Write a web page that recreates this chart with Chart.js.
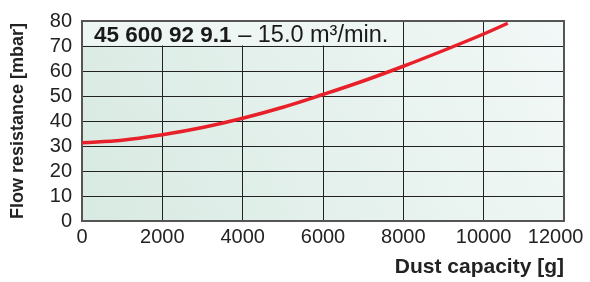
<!DOCTYPE html>
<html>
<head>
<meta charset="utf-8">
<script src="https://cdn.jsdelivr.net/npm/chart.js@4"></script>
<style>
  html, body { margin: 0; padding: 0; background: #fff; }
  #wrap { width: 590px; height: 282px; }
</style>
</head>
<body>
<div id="wrap"><canvas id="myChart" width="590" height="282"></canvas></div>
<script>
// values
const dustCapacity = [0, 1000, 2000, 3000, 4000, 5000, 6000, 7000, 8000, 9000, 10000, 10600];
const flowResistance = [31.3, 32.3, 34.5, 37.4, 41.1, 45.5, 50.6, 56.0, 61.9, 68.2, 74.8, 79.1];
const xTicks = [0, 2000, 4000, 6000, 8000, 10000, 12000];
const yTicks = [0, 10, 20, 30, 40, 50, 60, 70, 80];
const titleBold = '45 600 92 9.1';
const titleRest = ' \u2013 15.0 m\u00b3/min.';

const FONT = "'Liberation Sans', Arial, sans-serif";

// background gradient, title box and frame
const decor = {
  id: 'decor',
  beforeDraw(chart) {
    const { ctx, chartArea: a } = chart;
    const g = ctx.createLinearGradient(a.left, a.bottom, a.right, a.top);
    g.addColorStop(0, '#d8eae2');
    g.addColorStop(1, '#f2f8f7');
    ctx.save();
    ctx.fillStyle = g;
    ctx.fillRect(a.left, a.top, a.right - a.left, a.bottom - a.top);
    ctx.restore();
  },
  beforeDatasetsDraw(chart) {
    const { ctx, chartArea: a, scales } = chart;
    const x0 = scales.x.getPixelForValue(0);
    const x1 = scales.x.getPixelForValue(8000);
    const yTop = scales.y.getPixelForValue(80);
    const yBot = scales.y.getPixelForValue(70);
    ctx.save();
    ctx.fillStyle = '#eef6f4';
    ctx.fillRect(x0, yTop, x1 - x0 - 0.5, yBot - yTop - 0.5);
    // title text
    ctx.fillStyle = '#1a1a1a';
    ctx.textBaseline = 'alphabetic';
    ctx.font = 'bold 22.5px ' + FONT;
    const tx = x0 + 12;
    const ty = yBot - 4;
    ctx.fillText(titleBold, tx, ty);
    const w = ctx.measureText(titleBold).width;
    ctx.font = '23.5px ' + FONT;
    ctx.fillText(titleRest, tx + w, ty);
    // frame
    ctx.strokeStyle = '#555';
    ctx.lineWidth = 2;
    ctx.strokeRect(a.left, a.top, a.right - a.left, a.bottom - a.top);
    ctx.restore();
  }
};

const ctx = document.getElementById('myChart').getContext('2d');
const chart = new Chart(ctx, {
  type: 'line',
  data: {
    datasets: [{
      data: dustCapacity.map((x, i) => ({ x: x, y: flowResistance[i] })),
      borderColor: '#e8202a',
      borderWidth: 3.5,
      pointRadius: 0,
      tension: 0.4,
      fill: false
    }]
  },
  plugins: [decor],
  options: {
    responsive: false,
    animation: false,
    layout: { padding: { top: 21, right: 26, left: 0, bottom: 0 } },
    plugins: { legend: { display: false }, tooltip: { enabled: false } },
    scales: {
      x: {
        type: 'linear',
        min: 0, max: 12000,
        afterBuildTicks: (axis) => { axis.ticks = xTicks.map(v => ({ value: v })); },
        afterFit: (axis) => {
          axis.height = 61;
          axis.paddingLeft = 0;
          axis.paddingRight = 0;
        },
        grid: { color: '#222', lineWidth: 1, drawTicks: false },
        border: { display: false },
        ticks: {
          padding: 4,
          color: '#222',
          maxRotation: 0,
          autoSkip: false,
          // last label sits a little left of its gridline, as in the original
          callback: (v) => v === 12000 ? '12000   ' : String(v),
          font: { family: FONT, size: 20 }
        },
        title: {
          display: true,
          text: 'Dust capacity [g]',
          align: 'end',
          color: '#222',
          font: { family: FONT, size: 21, weight: 'bold' },
          padding: { top: 0, bottom: 2 }
        }
      },
      y: {
        min: 0, max: 80,
        afterBuildTicks: (axis) => { axis.ticks = yTicks.map(v => ({ value: v })); },
        afterFit: (axis) => {
          axis.width = 82;
          axis.paddingTop = 0;
          axis.paddingBottom = 0;
        },
        grid: { color: '#222', lineWidth: 1, drawTicks: false },
        border: { display: false },
        ticks: {
          padding: 10,
          color: '#222',
          autoSkip: false,
          callback: (v) => String(v),
          font: { family: FONT, size: 20 }
        },
        title: {
          display: true,
          text: 'Flow resistance [mbar]',
          color: '#222',
          font: { family: FONT, size: 18, weight: 'bold' },
          padding: { top: 7, bottom: 0 }
        }
      }
    }
  }
});
</script>
</body>
</html>
